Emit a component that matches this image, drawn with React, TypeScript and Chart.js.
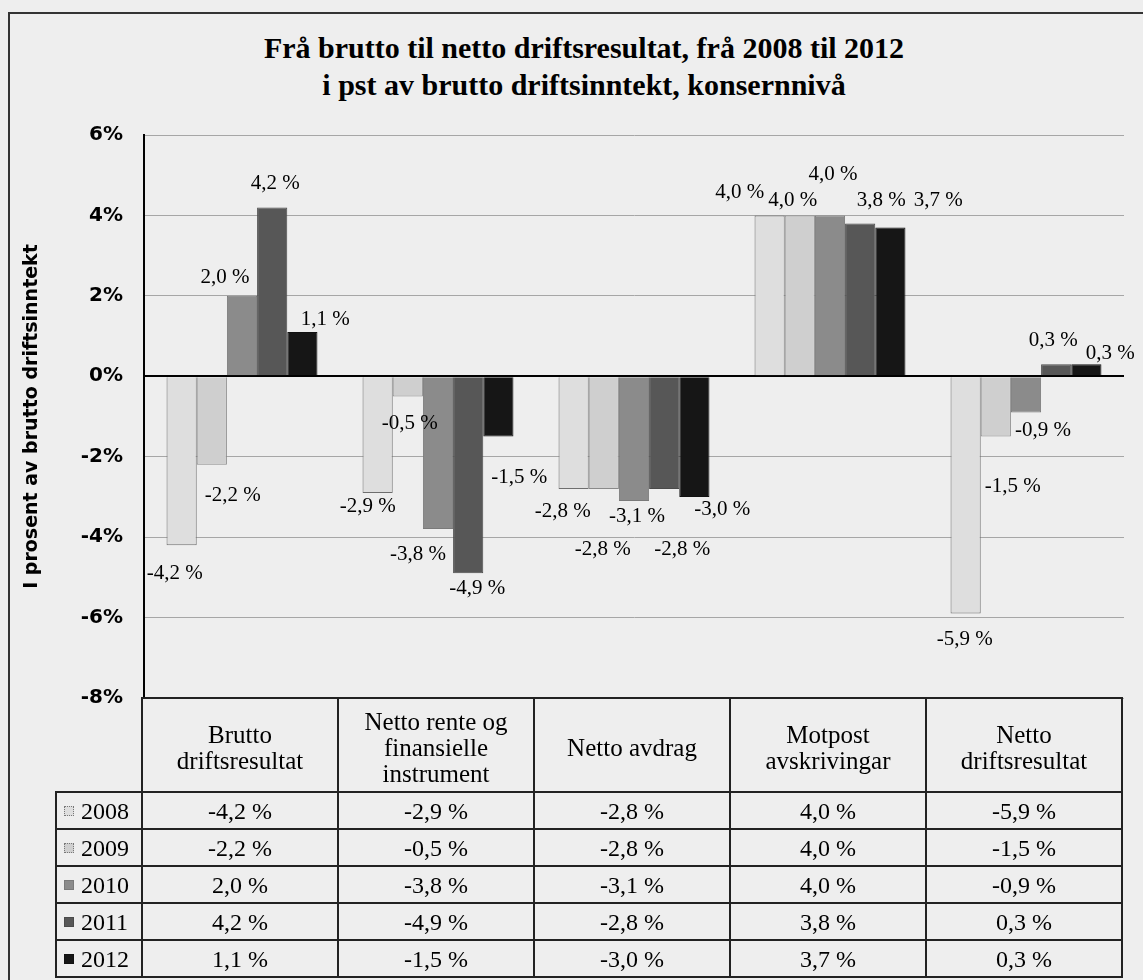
import React, { useEffect, useRef } from 'react';
import { Chart, registerables } from 'chart.js';

Chart.register(...registerables);

const titleLines = [
  'Frå brutto til netto driftsresultat, frå 2008 til 2012',
  'i pst av brutto driftsinntekt, konsernnivå',
];
const yAxisTitle = 'I prosent av brutto driftsinntekt';
const categories = [
  'Brutto\ndriftsresultat',
  'Netto rente og\nfinansielle\ninstrument',
  'Netto avdrag',
  'Motpost\navskrivingar',
  'Netto\ndriftsresultat',
];
const years = ['2008', '2009', '2010', '2011', '2012'];
const values2008 = [-4.2, -2.9, -2.8, 4.0, -5.9];
const values2009 = [-2.2, -0.5, -2.8, 4.0, -1.5];
const values2010 = [2.0, -3.8, -3.1, 4.0, -0.9];
const values2011 = [4.2, -4.9, -2.8, 3.8, 0.3];
const values2012 = [1.1, -1.5, -3.0, 3.7, 0.3];
const seriesValues = [values2008, values2009, values2010, values2011, values2012];
const yMin = -8;
const yMax = 6;
const yStep = 2;

// styling
const fillColors = ['#dedede', '#cfcfcf', '#8b8b8b', '#575757', '#161616'];
const borderColors = ['#6e6e6e', '#8a8a8a', '#7a7a7a', '#4a4a4a', '#111111'];
// label nudges (dx, dy) from the default outside-end position, per series per category
const labelNudges = [
  [[-7, 10], [-10, -4], [-11, 5], [-30, -5], [-1, 8]],
  [[21, 13], [2, 9], [-1, 43], [-7, 3], [17, 32]],
  [[-17, 0], [-20, 7], [3, -2], [3, -23], [17, 0]],
  [[3, -6], [9, -3], [18, 43], [21, -5], [-3, -6]],
  [[23, 5], [21, 23], [28, -5], [48, -9], [24, 7]],
];

const fmt = (v: number) => v.toFixed(1).replace('.', ',') + ' %';

const colX = [56, 142, 338, 534, 730, 926, 1122];
const rowY = [698, 792, 829, 866, 903, 940, 977];

const barLabelPlugin = {
  id: 'barLabels',
  afterDatasetsDraw(chart: any) {
    const ctx = chart.ctx;
    ctx.save();
    ctx.font = '21px "Liberation Serif"';
    ctx.fillStyle = '#000';
    ctx.textAlign = 'center';
    ctx.textBaseline = 'middle';
    chart.data.datasets.forEach((ds: any, i: number) => {
      const meta = chart.getDatasetMeta(i);
      meta.data.forEach((el: any, j: number) => {
        const v = ds.data[j];
        const [dx, dy] = labelNudges[i][j];
        const y = v >= 0 ? el.y - 18 : el.y + 18;
        ctx.fillText(fmt(v), el.x + dx, y + dy);
      });
    });
    ctx.restore();
  },
};

export default function App() {
  const canvasRef = useRef<HTMLCanvasElement | null>(null);

  useEffect(() => {
    if (!canvasRef.current) return;
    const chart = new Chart(canvasRef.current, {
      type: 'bar',
      data: {
        labels: categories.map((c) => c.replace(/\n/g, ' ')),
        datasets: years.map((y, i) => ({
          label: y,
          data: seriesValues[i],
          backgroundColor: fillColors[i],
          borderColor: borderColors[i],
          borderWidth: 1,
          categoryPercentage: 0.77,
          barPercentage: 1.0,
        })),
      },
      options: {
        responsive: false,
        animation: false,
        devicePixelRatio: 1,
        layout: { padding: { left: 0, right: 19, top: 135, bottom: 282 } },
        plugins: {
          legend: { display: false },
          title: { display: false },
          tooltip: { enabled: false },
        },
        scales: {
          x: { display: false },
          y: {
            min: yMin,
            max: yMax,
            afterFit(scale: any) {
              scale.width = 144;
            },
            ticks: {
              stepSize: yStep,
              padding: 21,
              color: '#000',
              font: { family: 'DejaVu Sans', weight: 'bold', size: 20 },
              callback: (v: any) => v + '%',
            },
            grid: {
              drawTicks: false,
              color: (c: any) => (c.tick && c.tick.value === 0 ? '#000' : '#a6a6a6'),
              lineWidth: (c: any) => (c.tick && c.tick.value === 0 ? 2 : 1),
            },
            border: { display: true, color: '#000', width: 2 },
            title: {
              display: true,
              text: yAxisTitle,
              color: '#000',
              font: { family: 'DejaVu Sans', weight: 'bold', size: 19 },
              padding: { top: 21, bottom: 0 },
            },
          },
        },
      },
      plugins: [barLabelPlugin],
    } as any);
    return () => chart.destroy();
  }, []);

  const cellBase: React.CSSProperties = {
    position: 'absolute',
    boxSizing: 'border-box',
    border: '2px solid #222',
    display: 'flex',
    alignItems: 'center',
    justifyContent: 'center',
    textAlign: 'center',
    fontSize: 24,
    lineHeight: 1,
    whiteSpace: 'pre-line',
    color: '#000',
  };

  const cells: React.ReactNode[] = [];
  for (let r = 0; r < rowY.length - 1; r++) {
    for (let c = 0; c < colX.length - 1; c++) {
      if (r === 0 && c === 0) continue;
      const style: React.CSSProperties = {
        ...cellBase,
        left: colX[c] - 1,
        top: rowY[r] - 1,
        width: colX[c + 1] - colX[c] + 2,
        height: rowY[r + 1] - rowY[r] + 2,
      };
      let content: React.ReactNode = null;
      if (r === 0) {
        style.fontSize = 25;
        style.lineHeight = '26px';
        style.paddingTop = 6;
        content = categories[c - 1];
      } else if (c === 0) {
        const i = r - 1;
        style.justifyContent = 'flex-start';
        style.paddingLeft = 7;
        content = (
          <>
            <span
              style={{
                display: 'inline-block',
                width: 10,
                height: 10,
                background: fillColors[i],
                border: i < 2 ? '1px dotted #777' : '1px solid ' + borderColors[i],
                marginRight: 7,
                boxSizing: 'border-box',
              }}
            />
            <span>{years[i]}</span>
          </>
        );
      } else {
        content = fmt(seriesValues[r - 1][c - 1]);
      }
      cells.push(
        <div key={r + '-' + c} style={style}>
          {content}
        </div>
      );
    }
  }

  return (
    <div
      style={{
        position: 'absolute',
        left: 0,
        top: 0,
        width: 1143,
        height: 980,
        background: '#eeeeee',
        fontFamily: '"Liberation Serif", serif',
        overflow: 'hidden',
      }}
    >
      <div
        style={{
          position: 'absolute',
          left: 8,
          top: 12,
          width: 1135,
          height: 968,
          borderLeft: '2px solid #333',
          borderTop: '2px solid #333',
          boxSizing: 'border-box',
        }}
      />
      <div
        style={{
          position: 'absolute',
          left: 0,
          top: 29,
          width: 1168,
          textAlign: 'center',
          fontWeight: 'bold',
          fontSize: 30,
          lineHeight: '37px',
          color: '#000',
        }}
      >
        {titleLines.map((t) => (
          <div key={t}>{t}</div>
        ))}
      </div>
      <canvas
        ref={canvasRef}
        width={1143}
        height={980}
        style={{ position: 'absolute', left: 0, top: 0, width: 1143, height: 980 }}
      />
      {cells}
    </div>
  );
}
